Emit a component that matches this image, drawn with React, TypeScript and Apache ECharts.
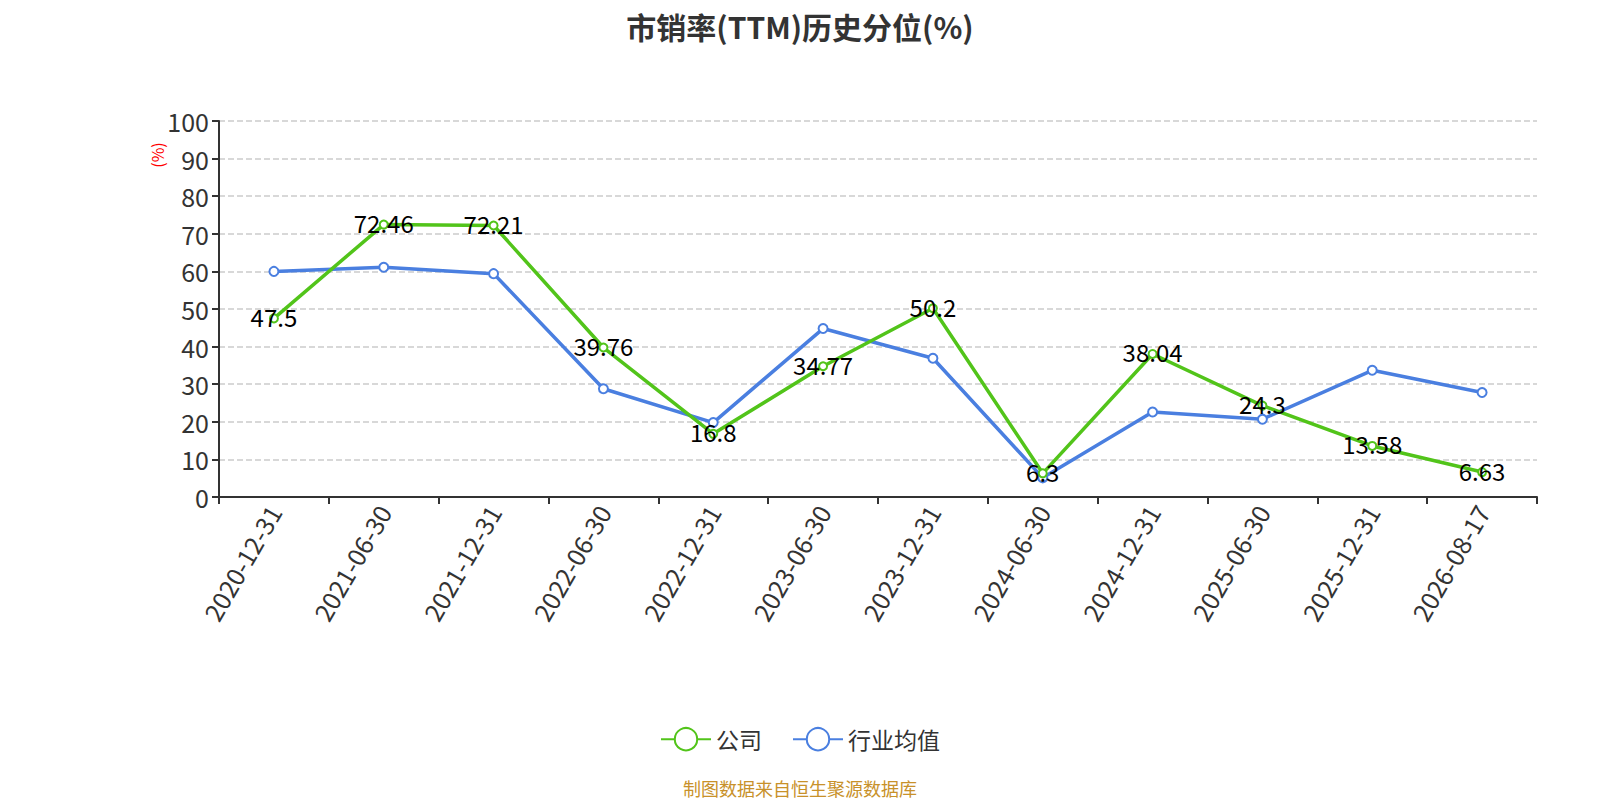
import React, { useEffect, useRef } from "react";
import * as echarts from "echarts";

const categories = [
  "2020-12-31", "2021-06-30", "2021-12-31", "2022-06-30", "2022-12-31", "2023-06-30",
  "2023-12-31", "2024-06-30", "2024-12-31", "2025-06-30", "2025-12-31", "2026-08-17",
];
const companyValues = [47.5, 72.46, 72.21, 39.76, 16.8, 34.77, 50.2, 6.3, 38.04, 24.3, 13.58, 6.63];
const industryValues = [60.0, 61.1, 59.4, 28.8, 19.8, 44.8, 36.9, 5.1, 22.6, 20.7, 33.7, 27.8];
const seriesNames = ["公司", "行业均值"];
const titleText = "市销率(TTM)历史分位(%)";
const sourceText = "制图数据来自恒生聚源数据库";
const yAxisName = "(%)";

const FONT = '"Noto Sans CJK SC", "Open Sans", sans-serif';

export default function App() {
  const ref = useRef<HTMLDivElement>(null);
  useEffect(() => {
    if (!ref.current) return;
    const chart = echarts.init(ref.current, null, { renderer: "svg" });
    chart.setOption({
      animation: false,
      textStyle: { fontFamily: FONT },
      title: {
        text: titleText,
        left: "center",
        top: 6,
        textStyle: { fontSize: 30, fontWeight: "bold", color: "#333", fontFamily: FONT },
      },
      grid: { left: 219, right: 63, top: 121, bottom: 303 },
      legend: {
        top: 722,
        left: "center",
        itemWidth: 50,
        itemHeight: 28,
        itemGap: 30,
        textStyle: { fontSize: 23, color: "#333", fontFamily: FONT },
        data: seriesNames,
      },
      graphic: [
        {
          type: "text",
          left: "center",
          top: 779,
          style: { text: sourceText, fill: "#c8912a", fontSize: 18, fontFamily: FONT },
        },
        {
          type: "text",
          x: 157,
          y: 155,
          rotation: Math.PI / 2,
          style: {
            text: yAxisName,
            fill: "#ff0000",
            fontSize: 16,
            fontFamily: FONT,
            textAlign: "center",
            textVerticalAlign: "middle",
          },
        },
      ],
      xAxis: {
        type: "category",
        data: categories,
        boundaryGap: true,
        axisLine: { lineStyle: { color: "#333", width: 2 } },
        axisTick: { show: true, length: 7, lineStyle: { color: "#333", width: 2 } },
        axisLabel: { rotate: 60, fontSize: 25, color: "#333", margin: 10, fontFamily: FONT },
      },
      yAxis: {
        type: "value",
        min: 0,
        max: 100,
        interval: 10,
        axisLine: { show: true, lineStyle: { color: "#333", width: 2 } },
        axisTick: { show: true, length: 7, lineStyle: { color: "#333", width: 2 } },
        axisLabel: { fontSize: 25, color: "#333", margin: 10, fontFamily: FONT },
        splitLine: { show: true, lineStyle: { type: "dashed", color: "#ccc", width: 1.5 } },
      },
      series: [
        {
          name: seriesNames[0],
          type: "line",
          data: companyValues,
          symbol: "emptyCircle",
          symbolSize: 8,
          itemStyle: { color: "#52c41a" },
          lineStyle: { width: 3.5, color: "#52c41a" },
          label: {
            show: true,
            position: "inside",
            offset: [0, -2],
            fontSize: 24,
            color: "#000",
            fontFamily: FONT,
          },
          z: 3,
        },
        {
          name: seriesNames[1],
          type: "line",
          data: industryValues,
          symbol: "emptyCircle",
          symbolSize: 9,
          itemStyle: { color: "#4a7fe0" },
          lineStyle: { width: 3.5, color: "#4a7fe0" },
          z: 2,
        },
      ],
    });
    return () => chart.dispose();
  }, []);
  return (
    <div
      ref={ref}
      style={{ position: "fixed", left: 0, top: 0, width: 1600, height: 800, background: "#fff" }}
    />
  );
}
